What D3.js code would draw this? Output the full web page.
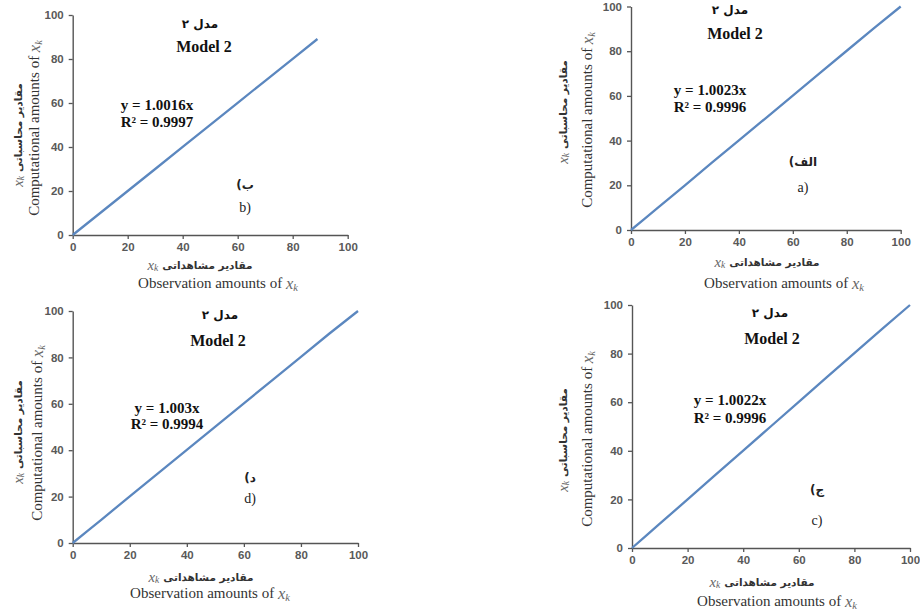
<!DOCTYPE html>
<html><head><meta charset="utf-8">
<script src="https://cdn.jsdelivr.net/npm/d3@7"></script>
<style>body{margin:0;background:#fff}</style></head>
<body>
<svg id="c" width="920" height="613"></svg>
<script>
// ---- data ----
const tickValues = [0, 20, 40, 60, 80, 100];
const panelNames = ["b", "a", "d", "c"];
const panelLetters = ["b)", "a)", "d)", "c)"];
const panelLettersFa = ["ب)", "الف)", "د)", "ج)"];
const titleFa = "مدل ۲";
const titleEn = "Model 2";
const equations = ["y = 1.0016x", "y = 1.0023x", "y = 1.003x", "y = 1.0022x"];
const rSquared = ["R² = 0.9997", "R² = 0.9996", "R² = 0.9994", "R² = 0.9996"];
const xLabelFa = "مقادیر مشاهداتی";
const xLabelEn = "Observation amounts of ";
const yLabelFa = "مقادیر محاسباتی";
const yLabelEn = "Computational amounts of ";
const obsB  = [0, 5, 10, 20, 30, 40, 50, 60, 70, 80, 89];
const calcB = [0, 5, 10, 20, 30, 40.1, 50.1, 60.1, 70.1, 80.1, 89.1];
const obsA  = [0, 5, 10, 20, 30, 40, 50, 60, 70, 80, 90, 100];
const calcA = [0, 5, 10, 20, 30.1, 40.1, 50.1, 60.1, 70.2, 80.2, 90.2, 100];
const obsD  = [0, 5, 10, 20, 30, 40, 50, 60, 70, 80, 90, 100];
const calcD = [0, 5, 10, 20.1, 30.1, 40.1, 50.2, 60.2, 70.2, 80.2, 90.3, 100];
const obsC  = [0, 5, 10, 20, 30, 40, 50, 60, 70, 80, 90, 100];
const calcC = [0, 5, 10, 20, 30.1, 40.1, 50.1, 60.1, 70.2, 80.2, 90.2, 100];

// ---- layout (pixel positions) ----
const layouts = [
  {obs: obsB, calc: calcB, L: 72.7, R: 347.7, T: 15, B: 235,
   tFa: [200, 24], tEn: [204, 46], eq: [157, 105, 122], lFa: [245, 185], l: [245, 207],
   xFa: [200, 265], xEn: [218, 283], yFa: [18, 135], yEn: [34, 128]},
  {obs: obsA, calc: calcA, L: 631, R: 900.7, T: 6.5, B: 230,
   tFa: [730, 10], tEn: [735, 33], eq: [710, 90, 107], lFa: [803, 162], l: [803, 187],
   xFa: [767, 262], xEn: [784, 283], yFa: [563, 112], yEn: [587, 120]},
  {obs: obsD, calc: calcD, L: 72.7, R: 358, T: 311, B: 543,
   tFa: [220, 315], tEn: [218, 340], eq: [167, 408, 424], lFa: [250, 478], l: [250, 498],
   xFa: [201, 577], xEn: [210, 593], yFa: [18, 432], yEn: [37, 433]},
  {obs: obsC, calc: calcC, L: 632, R: 910, T: 305, B: 548,
   tFa: [770, 313], tEn: [772, 338], eq: [730, 400, 418], lFa: [817, 490], l: [817, 520],
   xFa: [762, 582], xEn: [777, 601], yFa: [563, 440], yEn: [587, 439]}
];

const svg = d3.select("#c");
const serif = "'Liberation Serif','Times New Roman',serif";
const sans = "'Liberation Sans',Arial,sans-serif";
const faFont = "'DejaVu Sans','Noto Sans',sans-serif";

function addXk(text, size) {
  text.append("tspan").attr("font-family", serif).attr("font-style", "italic")
    .attr("fill", "#666").attr("font-size", size * 1.1).text("x");
  text.append("tspan").attr("font-family", serif).attr("font-style", "italic")
    .attr("fill", "#666").attr("font-size", size * 0.7).attr("dy", size * 0.25).text("k");
}

// English label + x_k, centered at (0,0) in group g
function enLabel(g, str, size) {
  const t = g.append("text").attr("text-anchor", "middle").attr("dominant-baseline", "central")
    .attr("font-family", serif).attr("font-size", size).attr("fill", "#333");
  t.append("tspan").text(str);
  addXk(t, size);
}
// Persian label with x_k on the left, centered at (0,0)
function faLabel(g, str, size) {
  const xk = g.append("text").attr("dominant-baseline", "central").attr("font-size", size);
  addXk(xk, size + 3);
  const fa = g.append("text").attr("dominant-baseline", "central")
    .attr("font-family", faFont).attr("font-weight", "bold").attr("font-size", size)
    .attr("fill", "#333").text(str);
  const wx = xk.node().getComputedTextLength();
  const wf = fa.node().getComputedTextLength();
  const gap = 4, total = wx + gap + wf;
  xk.attr("x", -total / 2);
  fa.attr("x", -total / 2 + wx + gap);
}

layouts.forEach((p, i) => {
  const x = d3.scaleLinear().domain([0, 100]).range([p.L, p.R]);
  const y = d3.scaleLinear().domain([0, 100]).range([p.B, p.T]);
  const g = svg.append("g");

  const xa = g.append("g").attr("transform", `translate(0,${p.B})`)
    .call(d3.axisBottom(x).tickValues(tickValues).tickSize(4).tickPadding(4).tickSizeOuter(0));
  const ya = g.append("g").attr("transform", `translate(${p.L},0)`)
    .call(d3.axisLeft(y).tickValues(tickValues).tickSize(4).tickPadding(5).tickSizeOuter(0));
  [xa, ya].forEach(a => {
    a.select(".domain").attr("stroke", "#555").attr("stroke-width", 1.4);
    a.selectAll(".tick line").attr("stroke", "#555").attr("stroke-width", 1.3);
    a.selectAll(".tick text").attr("font-family", sans).attr("font-weight", "bold")
      .attr("font-size", 11.5).attr("fill", "#595959");
  });

  const pts = p.obs.map((v, k) => [v, p.calc[k]]);
  g.append("path").datum(pts)
    .attr("fill", "none").attr("stroke", "#5b87bf").attr("stroke-width", 2.3)
    .attr("d", d3.line().x(d => x(d[0])).y(d => y(d[1])));

  // titles
  g.append("text").attr("x", p.tFa[0]).attr("y", p.tFa[1]).attr("text-anchor", "middle")
    .attr("dominant-baseline", "central").attr("direction", "rtl")
    .attr("font-family", faFont).attr("font-weight", "bold").attr("font-size", 12)
    .attr("fill", "#111").text(titleFa);
  g.append("text").attr("x", p.tEn[0]).attr("y", p.tEn[1]).attr("text-anchor", "middle")
    .attr("dominant-baseline", "central").attr("font-family", serif).attr("font-weight", "bold")
    .attr("font-size", 16).attr("fill", "#111").text(titleEn);

  // equation
  [equations[i], rSquared[i]].forEach((s, k) => {
    g.append("text").attr("x", p.eq[0]).attr("y", p.eq[1 + k]).attr("text-anchor", "middle")
      .attr("dominant-baseline", "central").attr("font-family", serif).attr("font-weight", "bold")
      .attr("font-size", 15).attr("fill", "#111").text(s);
  });

  // panel letters
  g.append("text").attr("x", p.lFa[0]).attr("y", p.lFa[1]).attr("text-anchor", "middle")
    .attr("dominant-baseline", "central").attr("direction", "rtl")
    .attr("font-family", faFont).attr("font-weight", "bold").attr("font-size", 12)
    .attr("fill", "#222").text(panelLettersFa[i]);
  g.append("text").attr("x", p.l[0]).attr("y", p.l[1]).attr("text-anchor", "middle")
    .attr("dominant-baseline", "central").attr("font-family", serif)
    .attr("font-size", 14).attr("fill", "#222").text(panelLetters[i]);

  // x axis labels
  faLabel(g.append("g").attr("transform", `translate(${p.xFa[0]},${p.xFa[1]})`), xLabelFa, 10.5);
  enLabel(g.append("g").attr("transform", `translate(${p.xEn[0]},${p.xEn[1]})`), xLabelEn, 15);
  // y axis labels
  faLabel(g.append("g").attr("transform", `translate(${p.yFa[0]},${p.yFa[1]}) rotate(-90)`), yLabelFa, 10.5);
  enLabel(g.append("g").attr("transform", `translate(${p.yEn[0]},${p.yEn[1]}) rotate(-90)`), yLabelEn, 15);
});
</script>
</body></html>
